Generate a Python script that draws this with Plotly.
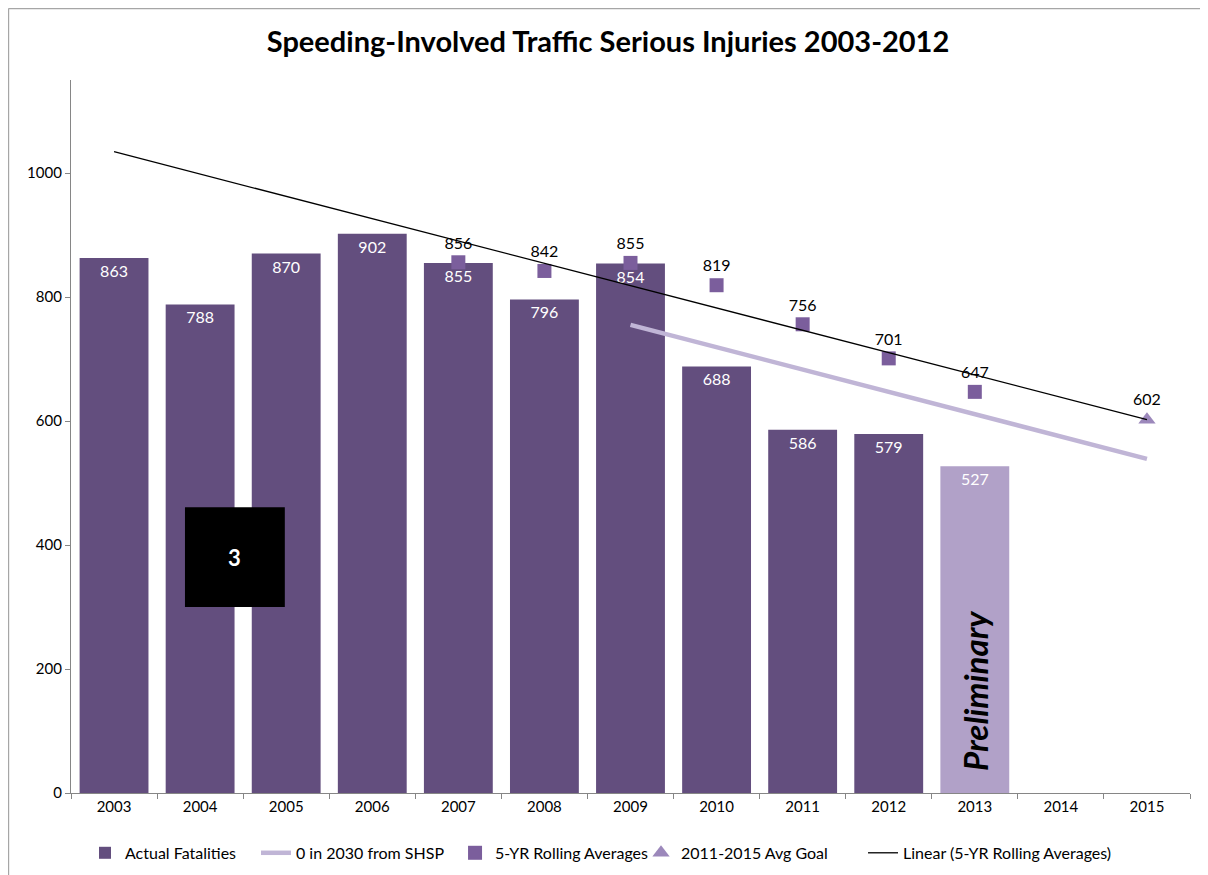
import numpy as np
import plotly.graph_objects as go

years = ["2003", "2004", "2005", "2006", "2007", "2008", "2009", "2010",
         "2011", "2012", "2013", "2014", "2015"]
bar_years = ["2003", "2004", "2005", "2006", "2007", "2008", "2009", "2010",
             "2011", "2012", "2013"]
actual = [863, 788, 870, 902, 855, 796, 854, 688, 586, 579, 527]
roll_years = ["2007", "2008", "2009", "2010", "2011", "2012", "2013"]
rolling = [856, 842, 855, 819, 756, 701, 647]
goal_years = ["2015"]
goal = [602]
shsp_years = ["2009", "2010", "2011", "2012", "2013", "2014", "2015"]
shsp = [755, 719, 683, 647, 611, 575, 539]

DARK = "#634E7E"
LIGHT = "#B1A1C8"
FONT = "Lato"

bar_colors = [DARK] * 10 + [LIGHT]

# linear trendline of rolling averages (fit on category index)
idx = {y: i for i, y in enumerate(years)}
rx = np.array([idx[y] for y in roll_years], dtype=float)
slope, intercept = np.polyfit(rx, np.array(rolling, dtype=float), 1)
trend_x = np.arange(len(years))
trend_y = slope * trend_x + intercept

fig = go.Figure()
fig.add_trace(go.Bar(
    x=bar_years, y=actual, name="Actual Fatalities", legend="legend",
    marker=dict(color=bar_colors, line=dict(width=0)),
    text=[str(v) for v in actual], textposition="inside",
    insidetextanchor="end", textangle=0,
    textfont=dict(color="white", size=16, family=FONT),
    width=0.8,
))
fig.add_trace(go.Scatter(
    x=shsp_years, y=shsp, name="0 in 2030 from SHSP", mode="lines", legend="legend2",
    line=dict(color="#C0B5D6", width=4.5),
))
fig.add_trace(go.Scatter(
    x=roll_years, y=rolling, name="5-YR Rolling Averages", mode="markers+text",
    legend="legend3",
    marker=dict(symbol="square", size=14, color="#7B5E9C"),
    text=[str(v) for v in rolling], textposition="top center",
    textfont=dict(color="black", size=16, family=FONT),
))
fig.add_trace(go.Scatter(
    x=goal_years, y=goal, name="2011-2015 Avg Goal", mode="markers+text",
    legend="legend4",
    marker=dict(symbol="triangle-up", size=15, color="#9C88BB"),
    text=[str(v) for v in goal], textposition="top center",
    textfont=dict(color="black", size=16, family=FONT),
))
fig.add_trace(go.Scatter(
    x=[years[i] for i in trend_x], y=trend_y, name="Linear (5-YR Rolling Averages)",
    mode="lines", legend="legend5", line=dict(color="black", width=1.3),
))

# black box with "3"
fig.add_shape(type="rect", xref="x", yref="y", x0=0.824, x1=1.984, y0=300, y1=461,
              fillcolor="black", line=dict(width=0), layer="above")
fig.add_annotation(x=1.404, y=380, xref="x", yref="y", text="<b>3</b>", showarrow=False,
                   font=dict(color="white", size=22, family=FONT))
fig.add_annotation(x=10, y=166, xref="x", yref="y", text="<b><i>Preliminary</i></b>",
                   showarrow=False, textangle=-90,
                   font=dict(color="black", size=33, family=FONT))

# outer border (left & top)
fig.add_shape(type="line", xref="paper", yref="paper", x0=-0.0559, x1=-0.0559,
              y0=-0.2, y1=1.1003, line=dict(color="#A6A6A6", width=1.5))
fig.add_shape(type="line", xref="paper", yref="paper", x0=-0.0559, x1=1.1,
              y0=1.1003, y1=1.1003, line=dict(color="#A6A6A6", width=1.5))

def leg(xp):
    return dict(orientation="h", x=xp, xanchor="left", y=-0.084, yanchor="middle",
                font=dict(size=16, family=FONT), bgcolor="rgba(0,0,0,0)")

fig.update_layout(
    width=1200, height=867,
    margin=dict(l=63, r=18, t=72, b=82, autoexpand=False),
    paper_bgcolor="white", plot_bgcolor="white",
    font=dict(family=FONT, size=15, color="black"),
    title=dict(text="<b>Speeding-Involved Traffic Serious Injuries 2003-2012</b>",
               x=0.5, xanchor="center", y=1 - 34 / 867, yanchor="middle",
               font=dict(size=29, family=FONT, color="black")),
    showlegend=True,
    legend=leg(0.0125),
    legend2=leg(0.1653),
    legend3=leg(0.3432),
    legend4=leg(0.5094),
    legend5=leg(0.7078),
    bargap=0.2,
)
fig.update_xaxes(type="category", categoryorder="array", categoryarray=years,
                 range=[-0.5, 12.5], showline=True, linecolor="#868686", linewidth=1.2,
                 ticks="outside", tickson="boundaries", ticklen=5, tickcolor="#868686",
                 showgrid=False, tickfont=dict(size=15, family=FONT))
fig.update_yaxes(range=[0, 1150], tickvals=[0, 200, 400, 600, 800, 1000],
                 showline=True, linecolor="#868686", linewidth=1.2,
                 ticks="outside", ticklen=5, tickcolor="#868686",
                 showgrid=False, zeroline=False, tickfont=dict(size=15, family=FONT))

fig.write_html("out.html")
